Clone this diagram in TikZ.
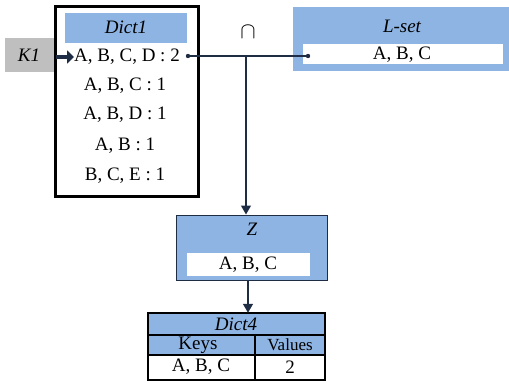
\documentclass[tikz,border=0pt]{standalone}
\usepackage{fontspec}
\setmainfont{Liberation Serif}
\usetikzlibrary{arrows.meta}
\definecolor{boxblue}{HTML}{8EB4E3}
\definecolor{keygray}{HTML}{BFBFBF}
\definecolor{linenavy}{HTML}{1F2D44}
\begin{document}
\begin{tikzpicture}[x=1pt,y=-1pt,
  txt/.style={font=\fontsize{19}{22}\selectfont,inner sep=0pt},
  itxt/.style={font=\fontsize{19}{22}\selectfont\itshape,inner sep=0pt},
  small/.style={font=\fontsize{17}{20}\selectfont,inner sep=0pt},
  conn/.style={linenavy,line width=1.3pt},
  tip/.style={-{Triangle[length=9pt,width=10pt]}}]

    \useasboundingbox (0,0) rectangle (509,383);

    \node[fill=keygray,minimum width=51pt,minimum height=34pt,inner sep=0pt](k1box)at(30.5,55){};
    \node[itxt](k1)at(29,55){K1};

    \draw[line width=3pt](55,6)rectangle(198,196);
    \fill[boxblue](65,13)rectangle(187,43);
    \node[itxt](dict1)at(126,27){Dict1};
    \node[txt](r1)at(127,57){A, B, C, D : 2};
    \node[txt](r2)at(125,86){A, B, C : 1};
    \node[txt](r3)at(125,115){A, B, D : 1};
    \node[txt](r4)at(125,146){A, B : 1};
    \node[txt](r5)at(125,176){B, C, E : 1};
    \draw[linenavy,line width=4pt,-{Triangle[length=7pt,width=13pt]}](k1box.east|-r1)--(r1.west);

    \node[fill=boxblue,minimum width=216pt,minimum height=64pt,inner sep=0pt](lset)at(401,39){};
    \node[fill=white,minimum width=200pt,minimum height=20pt,inner sep=0pt](lrow)at(403,54){};
    \node[itxt](lname)at(402,26){L-set};
    \node[txt](lval)at(402,55){A, B, C};

    \coordinate(dotl)at(188,56);
    \coordinate(dotr)at(308,56);
    \coordinate(join)at(246,56);
    \node[inner sep=0pt,scale=2.3](cap)at(248,32){$\cap$};
    \draw[conn](dotl)--(dotr);
    \fill[linenavy](dotl)circle(2.2pt);
    \fill[linenavy](dotr)circle(2.2pt);

    \node[fill=boxblue,draw=linenavy,line width=1pt,minimum width=151pt,minimum height=65pt,inner sep=0pt](zbox)at(251.5,247.5){};
    \node[fill=white,minimum width=123pt,minimum height=23pt,inner sep=0pt](zrow)at(248.5,264.5){};
    \node[itxt](zname)at(252,229){Z};
    \node[txt](zval)at(248,265){A, B, C};
    \draw[conn,tip](join)--(zbox.north-|join);

    \node[fill=boxblue,minimum width=177pt,minimum height=42pt,inner sep=0pt](d4head)at(236.5,334){};
    \draw[line width=2pt](148,313)rectangle(325,380);
    \draw[line width=2pt](148,335)--(325,335);
    \draw[line width=2pt](148,355)--(325,355);
    \draw[line width=2pt](255,335)--(255,380);
    \node[itxt](dict4)at(236,324){Dict4};
    \node[txt](keys)at(198,345){Keys};
    \node[small](vals)at(290,345){Values};
    \node[txt](kval)at(201,367){A, B, C};
    \node[txt](vval)at(290,367){2};
    \coordinate(zout)at(248,281);
    \draw[conn,tip](zout)--(zout|-d4head.north);

\end{tikzpicture}
\end{document}
